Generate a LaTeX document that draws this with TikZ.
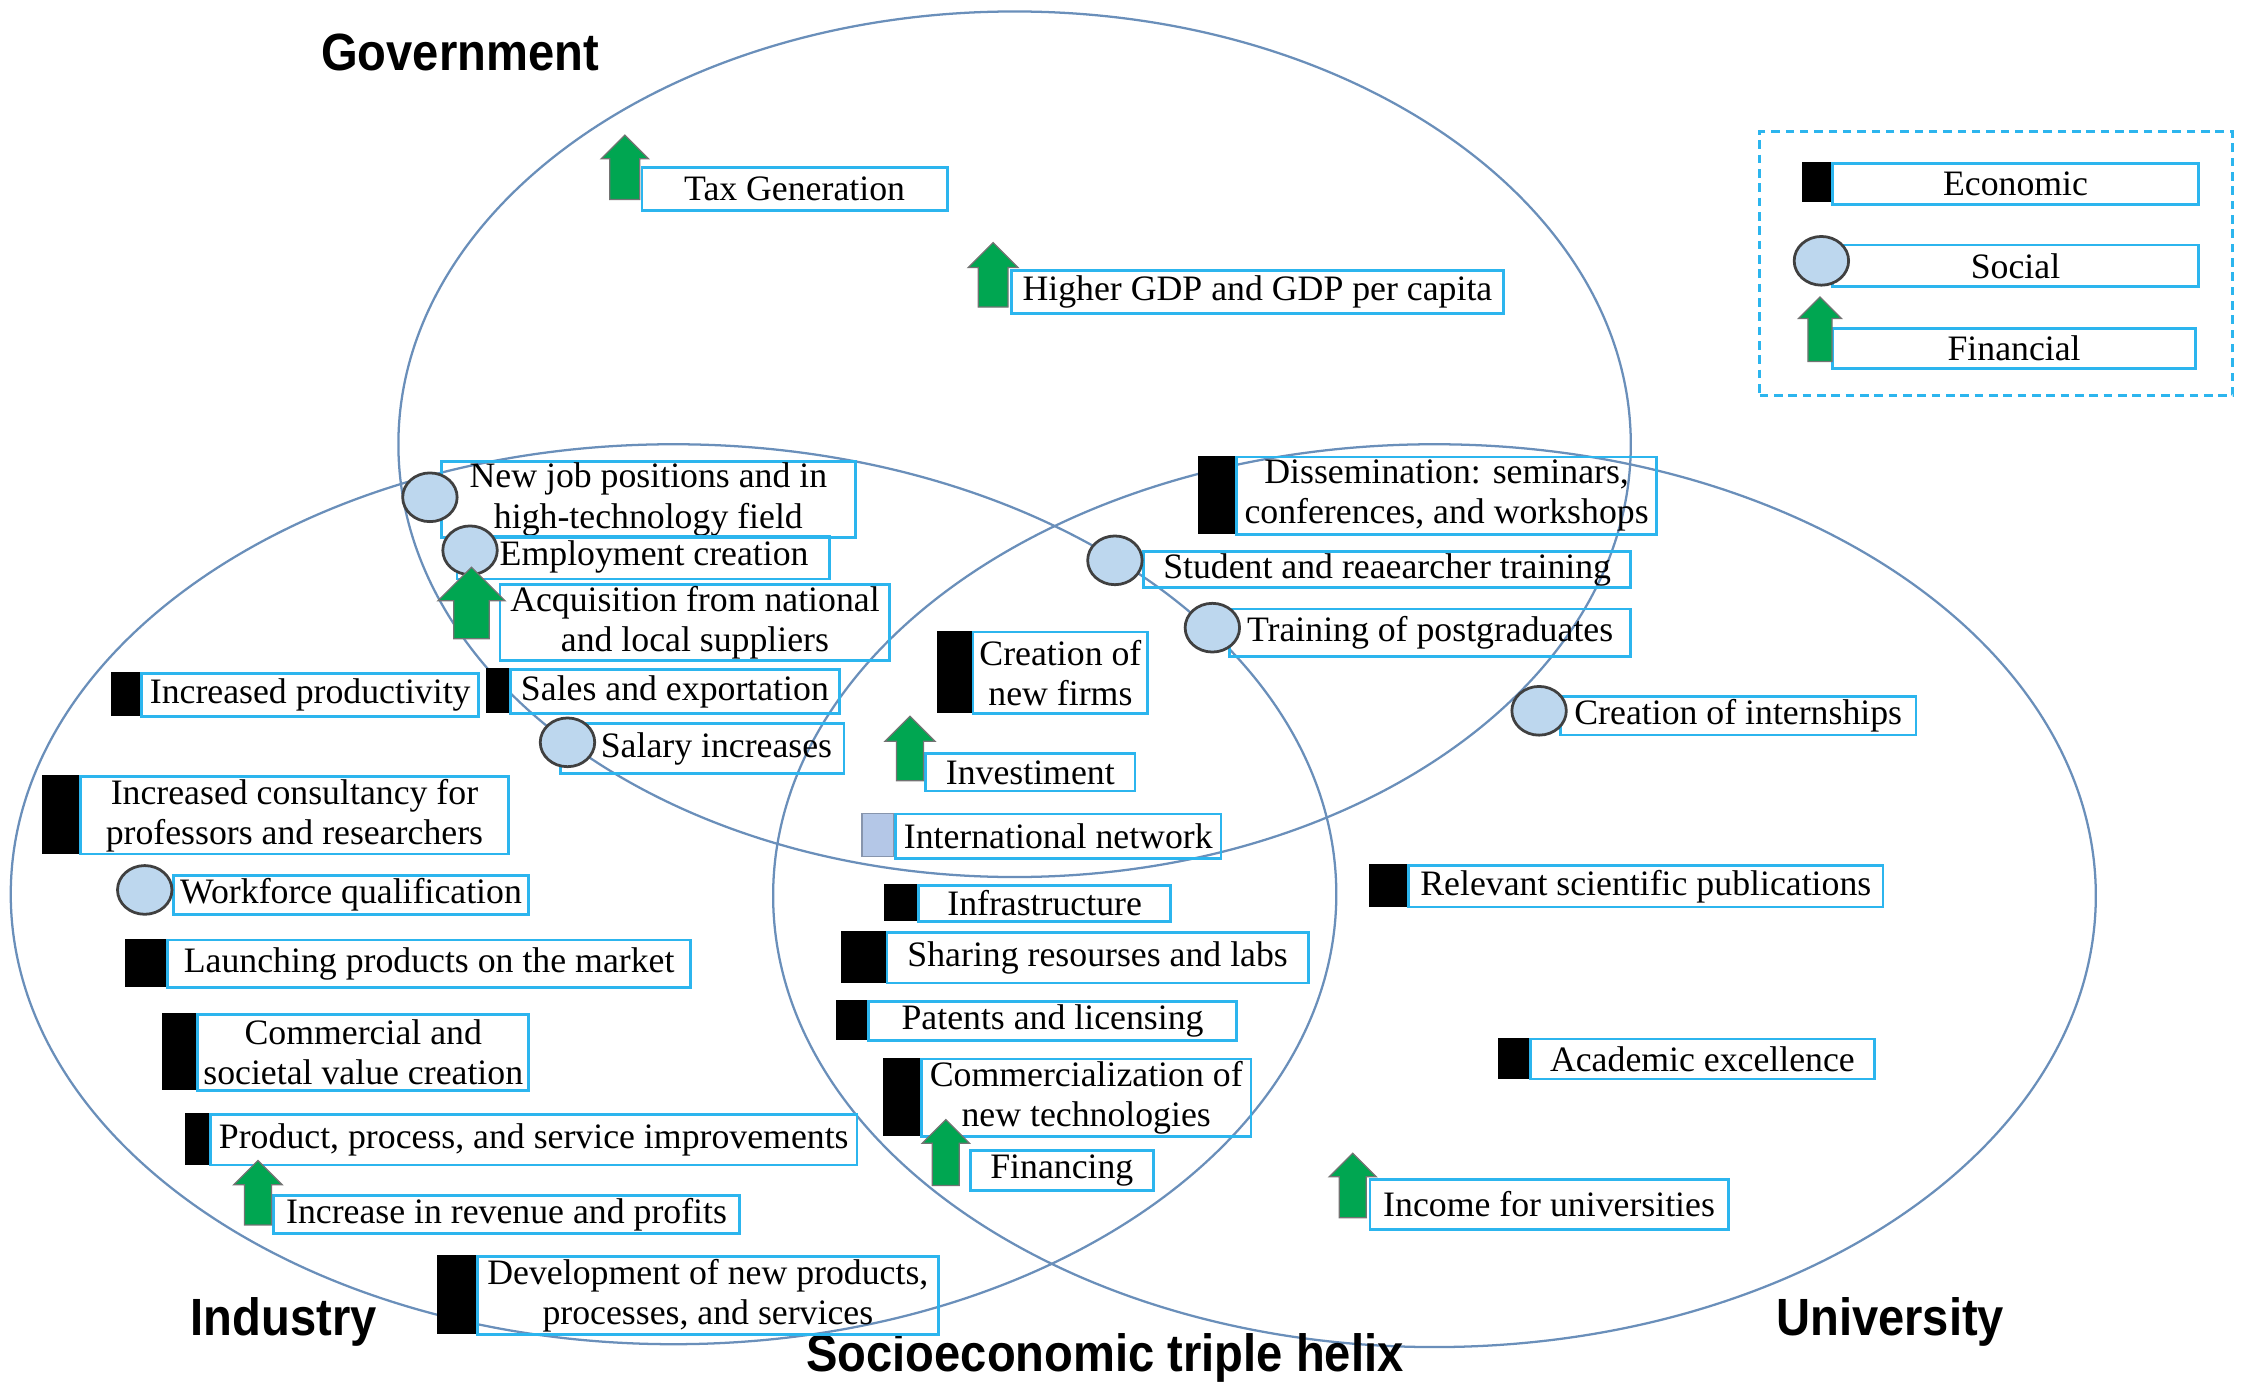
\documentclass[tikz,border=0pt]{standalone}
\usepackage{fontspec}
\setmainfont{Liberation Serif}
\newfontfamily\headfont[FakeStretch=0.9]{Liberation Sans}
\usetikzlibrary{shapes.geometric, shapes.arrows}
\definecolor{cbox}{HTML}{2CB5EE}
\definecolor{cring}{HTML}{6A8FBA}
\definecolor{csoc}{HTML}{BDD7EE}
\definecolor{cline}{HTML}{404040}
\definecolor{cfin}{HTML}{00A651}
\definecolor{cnet}{HTML}{B4C7E7}
\tikzset{
  every picture/.style={line width=1pt},
  ring/.style 2 args={ellipse, draw=cring, line width=0.9pt, inner sep=0pt, minimum width=#1*0.2mm, minimum height=#2*0.2mm},
  lbl/.style 2 args={draw=cbox, line width=1.1pt, align=center, anchor=north west, inner sep=0.5pt, font=\fontsize{14.2}{16}\selectfont, minimum width=#1*0.2mm, minimum height=#2*0.2mm},
  econ/.style 2 args={fill=black, draw=black, line width=0.5pt, inner sep=0pt, anchor=north east, minimum width=#1*0.2mm, minimum height=#2*0.2mm},
  social/.style={ellipse, fill=csoc, draw=cline, line width=1.1pt, inner sep=0pt, minimum width=7.6mm, minimum height=6.8mm},
  financial/.style n args={3}{single arrow, rotate=90, fill=cfin, draw=black!55, line width=0.5pt, inner xsep=0pt, inner ysep=#3*0.1mm, single arrow head extend={(#2-#3)*0.1mm}, minimum height=#1*0.2mm},
  sector/.style={font=\headfont\bfseries\fontsize{20.8}{24}\selectfont, anchor=base},
}

\begin{document}
\begin{tikzpicture}[x=0.2mm, y=-0.2mm]
  \useasboundingbox (0,0) rectangle (1568,965);
  % the three spheres
  \node[ring={860}{604}] (govt-ring) at (708,310) {};
  \node[ring={925}{628}] (indu-ring) at (470,624) {};
  \node[ring={923}{630}] (univ-ring) at (1001,625) {};
  \node[sector] (govt) at (321,49) {Government};
  \node[sector] (indu) at (198,932) {Industry};
  \node[sector] (univ) at (1319,932) {University};
  \node[sector] (title) at (771,957) {Socioeconomic triple helix};
  % economic outcomes
  \foreach \nm/\x/\y/\w/\h/\bw/\t in {
      sales/355/466/230/31/15/{Sales and exportation},
      prod/98/469/235/30/20/{Increased productivity},
      consult/55/541/299/54/25/{Increased consultancy for\\ professors and researchers},
      launch/116/655/365/33/28/{Launching products on the market},
      value/137/707/231/53/23/{Commercial and\\ societal value creation},
      improve/146/777/451/35/16/{Product, process, and service improvements},
      develop/332/876/322/54/26/{Development of new products,\\ processes, and services},
      dissem/862/318/293/54/25/{Dissemination: seminars,\\ conferences, and workshops},
      firms/678/440/122/57/23/{Creation of\\ new firms},
      infra/640/617/176/25/22/{Infrastructure},
      labs/618/650/294/35/30/{Sharing resourses and labs},
      patents/605/698/257/27/21/{Patents and licensing},
      commerc/642/738/230/54/25/{Commercialization of\\ new technologies},
      papers/982/603/331/29/26/{Relevant scientific publications},
      excel/1067/724/240/28/21/{Academic excellence}} {
    \node[lbl={\w}{\h}] (\nm) at (\x,\y) {\t};
    \node[econ={\bw}{\h}] (\nm-i) at (\nm.north west) {};
  }
  % social outcomes
  \foreach \nm/\x/\y/\w/\h/\cx/\cy/\t in {
      jobs/307/321/289/53/300/347/{New job positions and in\\ high-technology field},
      employ/318/373/260/30/328/384/{\hspace*{3mm}Employment creation},
      salary/390/504/198/35/396/518/{\hspace*{4mm}Salary increases},
      skills/120/610/248/27/101/621/{Workforce qualification},
      student/797/384/340/25/778/391/{Student and reaearcher training},
      postgrad/857/424/280/33/846/438/{Training of postgraduates},
      intern/1088/485/248/27/1074/496/{Creation of internships}} {
    \node[lbl={\w}{\h}] (\nm) at (\x,\y) {\t};
    \node[social] (\nm-i) at (\cx,\cy) {};
  }
  % financial outcomes
  \foreach \nm/\x/\y/\w/\h/\ax/\ay/\len/\hw/\sw/\t in {
      tax/447/116/213/30/436/122/45/32/20/{Tax Generation},
      gdp/705/188/343/30/693/197/45/34/20/{Higher GDP and GDP per capita},
      suppliers/348/407/272/53/329/427/50/46/24/{Acquisition from national\\ and local suppliers},
      revenue/190/833/325/27/180/837/45/33/18/{Increase in revenue and profits},
      invest/645/525/146/26/635/527/45/34/18/{Investiment},
      funding/676/802/128/28/660/809/46/32/18/{Financing},
      income/955/822/250/35/944/832/45/32/18/{Income for universities}} {
    \node[lbl={\w}{\h}] (\nm) at (\x,\y) {\t};
    \node[financial={\len}{\hw}{\sw}] (\nm-i) at (\ax,\ay) {};
  }
  \node[lbl={227}{31}] (network) at (624,567) {International network};
  \node[fill=cnet, draw=cnet!75!black, line width=0.6pt, inner sep=0pt, anchor=north east, minimum width=4.4mm, minimum height=6mm] (network-i) at (network.north west) {};
  % key
  \node[draw=cbox, dash pattern=on 1.2mm off 0.8mm, line width=1.1pt, anchor=north west, minimum width=66mm, minimum height=36.8mm] (key) at (1227,91) {};
  \node[lbl={255}{29}] (key-econ) at (1278,113) {Economic};
  \node[econ={20}{27}] (key-econ-i) at (key-econ.north west) {};
  \node[lbl={255}{29}] (key-soc) at (1278,170) {Social};
  \node[social] (key-soc-i) at (1271,182) {};
  \node[lbl={253}{28}] (key-fin) at (1278,228) {Financial};
  \node[financial={45}{29}{16}] (key-fin-i) at (1270,234) {};
\end{tikzpicture}
\end{document}
